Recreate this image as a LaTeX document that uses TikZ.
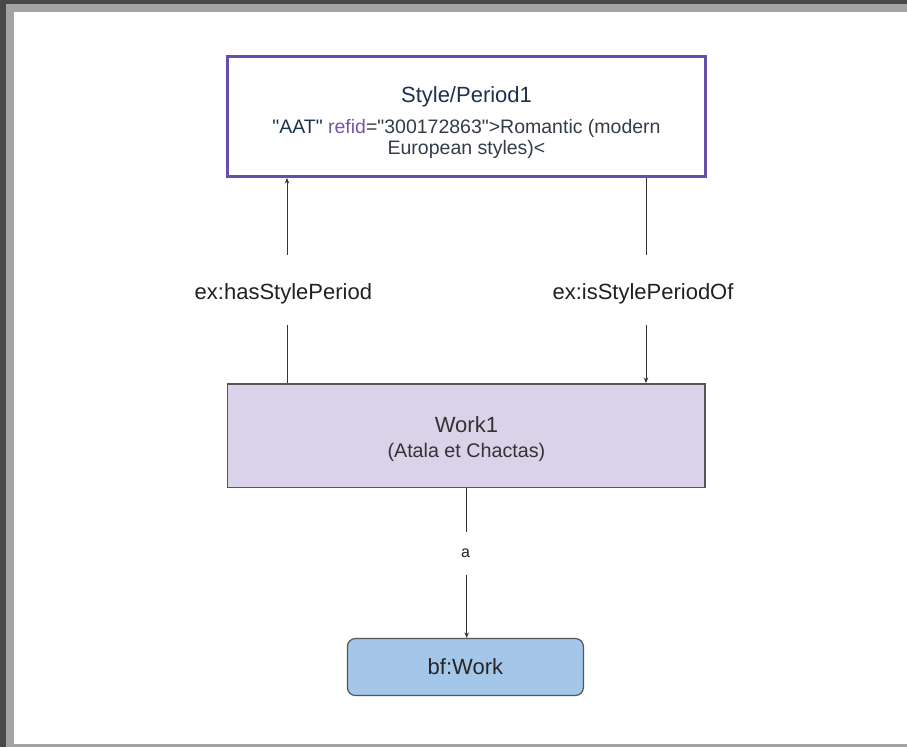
\documentclass[tikz,border=0pt]{standalone}
\usepackage{fontspec}
\setmainfont{Liberation Sans}[Ligatures=TeXOff]
\usetikzlibrary{arrows.meta}
\definecolor{framedark}{HTML}{484848}
\definecolor{framelight}{HTML}{A4A4A4}
\definecolor{navy}{HTML}{1C3350}
\definecolor{purp}{HTML}{7A55A5}
\definecolor{boxpurple}{HTML}{674EA7}
\definecolor{dgray}{HTML}{333D48}
\definecolor{lavender}{HTML}{D9D2E9}
\definecolor{lightblue}{HTML}{A4C6E8}
\definecolor{edgegray}{HTML}{555555}
\definecolor{linegray}{HTML}{333333}
\tikzset{
  stylebox/.style={draw=boxpurple, line width=3pt, fill=white, inner sep=0pt,
    align=center, minimum width=478pt, minimum height=120pt,
    font=\fontsize{19.5}{21}\selectfont},
  workbox/.style={draw=edgegray, line width=1.5pt, fill=lavender, inner sep=0pt,
    align=center, minimum width=477.5pt, minimum height=103.5pt,
    text=black!80, font=\fontsize{19.7}{25}\selectfont},
  classbox/.style={draw=edgegray, line width=1.2pt, fill=lightblue, rounded corners=8pt,
    inner sep=0pt, minimum width=236pt, minimum height=57pt,
    text=black!85, font=\fontsize{22}{26}\selectfont},
  biglabel/.style={inner xsep=2pt, inner ysep=0pt, anchor=base, text=black!87,
    font=\fontsize{22}{26}\selectfont, text height=44pt, text depth=26pt},
  smalllabel/.style={inner xsep=2pt, inner ysep=0pt, anchor=base, text=black!87,
    font=\fontsize{16}{19}\selectfont, text height=25.3pt, text depth=18pt},
  conn/.style={draw=linegray, line width=0.9pt},
  arr/.style={conn, -{Stealth[length=5.5pt,width=4.5pt]}}
}
\begin{document}
\begin{tikzpicture}[x=1pt,y=-1pt]
\useasboundingbox (0,0) rectangle (907,747);
% page frame
\fill[white] (0,0) rectangle (907,747);
\fill[framedark] (0,0) rectangle (6,747);
\fill[framedark] (0,0) rectangle (907,4);
\fill[framelight] (6,4) rectangle (14,747);
\fill[framelight] (6,4) rectangle (907,12);
\fill[framelight] (14,744) rectangle (907,747);

% nodes
\node[stylebox] (style) at (466.5,116.5)
  {\rule{0pt}{28pt}{\fontsize{22}{26}\selectfont\color{navy}Style/Period1}\\[10pt]
   {\color{navy}"AAT"} {\color{purp}refid}{\color{dgray}="300172863">Romantic (modern}\\
   {\color{dgray}European styles)<}};
\node[workbox] (work) at (466.4,435.5)
  {\rule{0pt}{23pt}{\fontsize{22}{25}\selectfont Work1}\\ (Atala et Chactas)};
\node[classbox] (bfwork) at (465.4,667) {bf:Work};

\coordinate (hx) at (287,0);
\coordinate (rx) at (646,0);
\coordinate (ax) at (466.7,0);

\node[biglabel] (has) at (283.4,299) {ex:hasStylePeriod};
\node[biglabel] (isof) at (643,299) {ex:isStylePeriodOf};
\node[smalllabel] (a) at (465.5,557) {a};

% connectors
\draw[conn] (work.north -| hx) -- (has.south -| hx);
\draw[arr] (has.north -| hx) -- (style.south -| hx);
\draw[conn] (style.south -| rx) -- (isof.north -| rx);
\draw[arr] (isof.south -| rx) -- (work.north -| rx);
\draw[conn] (work.south -| ax) -- (a.north -| ax);
\draw[arr] (a.south -| ax) -- (bfwork.north -| ax);
\end{tikzpicture}
\end{document}
